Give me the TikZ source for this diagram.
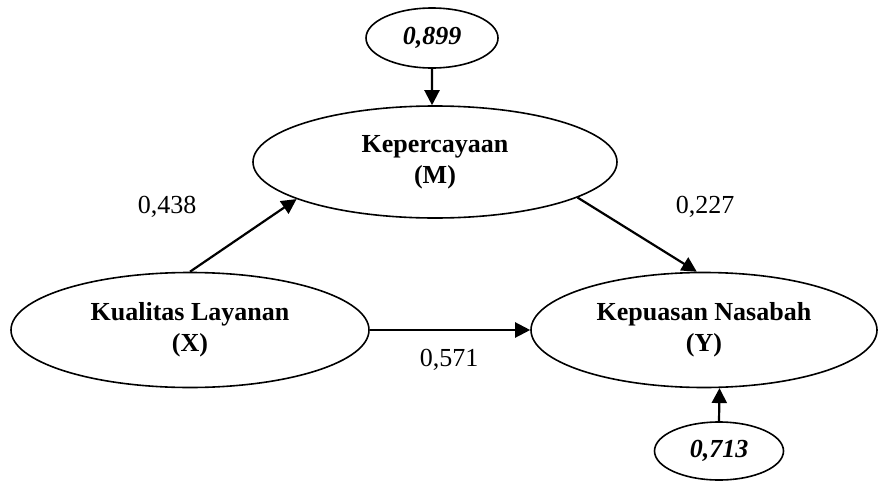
\documentclass[tikz,border=0pt]{standalone}
\usepackage{fontspec}
\setmainfont{Liberation Serif}
\usetikzlibrary{shapes.geometric,arrows.meta}
\begin{document}
\begin{tikzpicture}[x=1pt,y=-1pt,
  every node/.style={font=\fontsize{26}{31}\selectfont},
  latent/.style={ellipse,draw,line width=1.6pt,inner sep=0pt,align=center,font=\fontsize{26}{31}\selectfont\bfseries},
  errnode/.style={ellipse,draw,line width=1.6pt,inner sep=0pt,font=\fontsize{26}{31}\selectfont\bfseries\itshape},
  path/.style={line width=2.2pt,-{Triangle[length=15pt,width=15pt]}},
  coef/.style={font=\fontsize{26}{31}\selectfont}]
\useasboundingbox (0,0) rectangle (879,482);
\node[latent,minimum width=364pt,minimum height=112pt] (M) at (435,162) {Kepercayaan\\(M)};
\node[latent,minimum width=358pt,minimum height=115pt] (X) at (190,330) {Kualitas Layanan\\(X)};
\node[latent,minimum width=346pt,minimum height=115pt] (Y) at (704,330) {Kepuasan Nasabah\\(Y)};
\node[errnode,minimum width=132pt,minimum height=60pt] (e1) at (432,38) {0,899};
\node[errnode,minimum width=129pt,minimum height=58pt] (e2) at (719,451) {0,713};
\draw[path] (e1.south) -- (M.93);
\draw[path] (e2.north) -- (Y.-75.3);
\draw[path] (X.north) -- (M.195);
\draw[path] (M.-14.5) -- (Y.97);
\draw[path] (X.east) -- (Y.west);
\node[coef] (c1) at (167,207) {0,438};
\node[coef] (c2) at (705,207) {0,227};
\node[coef] (c3) at (449,360) {0,571};
\end{tikzpicture}
\end{document}
